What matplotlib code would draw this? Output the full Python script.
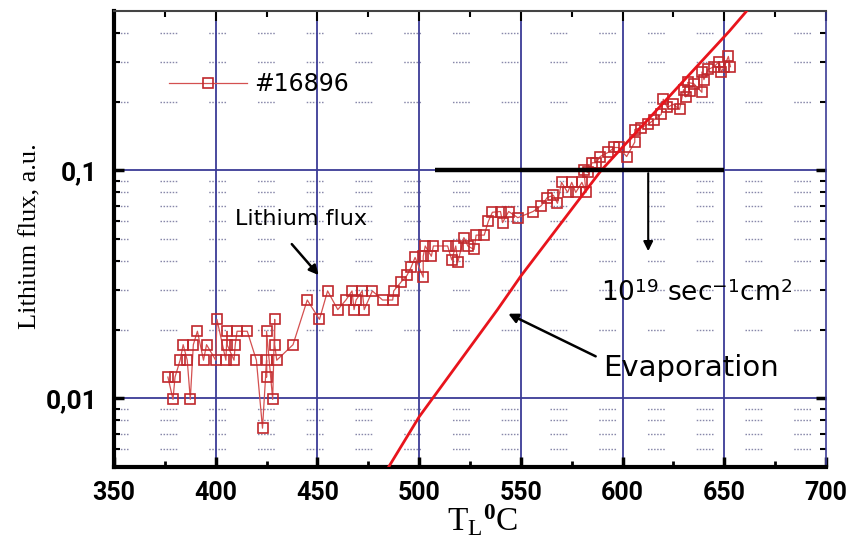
import matplotlib
matplotlib.use("Agg")
import matplotlib.pyplot as plt
from matplotlib.ticker import FixedLocator, NullFormatter, FixedFormatter

plt.rcParams['mathtext.fontset'] = 'custom'
plt.rcParams['mathtext.rm'] = 'Liberation Serif'
plt.rcParams['mathtext.it'] = 'Liberation Serif:italic'
plt.rcParams['mathtext.bf'] = 'Liberation Serif:bold'
plt.rcParams['lines.scale_dashes'] = False

# ---------------- data ----------------
temp = [376.5, 379, 380, 382.5, 384, 386, 387.5, 389, 391, 394, 395.5, 400, 400.6,
        405, 405.6, 405.6, 409, 409.6, 410.5, 415.5, 420, 423, 425, 425, 425, 428,
        429, 429, 430, 438, 445, 451, 455, 460, 464, 467, 468, 469, 472, 473, 477,
        482, 487, 487.5, 491, 494, 496, 498, 502, 502, 503, 506, 507, 514, 516, 518,
        519, 522, 524, 527, 528, 532, 534, 536, 540, 541, 544, 548.5, 556, 560, 563,
        566, 568, 570, 573, 575, 577, 580, 582, 581, 583, 585, 587, 589, 593, 596,
        598, 602, 606, 606, 609, 612.5, 615.5, 619, 620, 622, 625, 628, 630, 631,
        633, 632, 635, 639, 639, 640, 642, 645, 647.5, 648.5, 650, 652, 653]
flux = [0.0124, 0.0099, 0.0124, 0.0147, 0.0172, 0.0147, 0.0099, 0.0172, 0.0197,
        0.0147, 0.0172, 0.0147, 0.0222, 0.0147, 0.0197, 0.0172, 0.0147, 0.0172,
        0.0197, 0.0197, 0.0147, 0.0074, 0.0147, 0.0124, 0.0197, 0.0099, 0.0222,
        0.0172, 0.0147, 0.0172, 0.027, 0.0222, 0.0296, 0.0245, 0.027, 0.0296,
        0.0245, 0.027, 0.0296, 0.0245, 0.0296, 0.027, 0.027, 0.0296, 0.0323,
        0.0346, 0.0375, 0.0415, 0.034, 0.042, 0.0466, 0.042, 0.0466, 0.0466,
        0.0405, 0.0466, 0.0395, 0.0507, 0.0465, 0.045, 0.052, 0.052, 0.0597,
        0.0655, 0.066, 0.059, 0.066, 0.062, 0.066, 0.070, 0.076, 0.0777, 0.0717,
        0.0886, 0.080, 0.0886, 0.080, 0.0886, 0.080, 0.100, 0.098, 0.108, 0.108,
        0.115, 0.12, 0.126, 0.126, 0.115, 0.133, 0.151, 0.154, 0.159, 0.167,
        0.176, 0.205, 0.189, 0.195, 0.185, 0.226, 0.21, 0.222, 0.243, 0.24, 0.22,
        0.27, 0.25, 0.277, 0.285, 0.30, 0.27, 0.285, 0.316, 0.285]

evap_temp = [485, 500, 538.5, 550, 589.5, 652.5, 661]
evap_flux = [0.0050, 0.0083, 0.0245, 0.0344, 0.100, 0.408, 0.50]

level_temp = [508, 650]
level_flux = [0.1, 0.1]

series_label = "#16896"
xticks = [350, 400, 450, 500, 550, 600, 650, 700]
yticks = [0.01, 0.1]
ytick_labels = ["0,01", "0,1"]

# ---------------- figure ----------------
W, H = 847, 542
fig = plt.figure(figsize=(W / 100, H / 100), dpi=100)
L, R, T, B = 114, 826, 11, 467
ax = fig.add_axes([L / W, 1 - B / H, (R - L) / W, (B - T) / H])
ax.set_yscale('log')
ax.set_xlim(350, 700)
ax.set_ylim(0.005, 0.5)

grid_blue = '#3c3c96'
# major grid
for x in [400, 450, 500, 550, 600, 650]:
    ax.axvline(x, color=grid_blue, lw=1.3, zorder=1)
for y in yticks:
    ax.axhline(y, color=grid_blue, lw=1.3, zorder=1)
# minor grid (horizontal dotted segments)
minor_y = [0.006, 0.007, 0.008, 0.009, 0.02, 0.03, 0.04, 0.05, 0.06, 0.07, 0.08,
           0.09, 0.2, 0.3, 0.4]
dot_seg = (2, (1.1, 1.1) * 5 + (1.1, 23))
for y in minor_y:
    ax.axhline(y, color='#8888aa', lw=1.0, ls=dot_seg, zorder=0.5)

# data
ax.plot(temp, flux, color='#d45050', lw=0.9, marker='s', ms=7, mfc='none',
        mec='#c0282c', mew=1.2, zorder=3, label=series_label)
ax.plot(evap_temp, evap_flux, color='#e8141c', lw=2.0, zorder=4)
ax.plot(level_temp, level_flux, color='black', lw=3.2, zorder=4,
        solid_capstyle='butt')

# ticks
ax.xaxis.set_major_locator(FixedLocator(xticks))
ax.xaxis.set_minor_locator(FixedLocator([375, 425, 475, 525, 575, 625, 675]))
ax.yaxis.set_major_locator(FixedLocator(yticks))
ax.yaxis.set_major_formatter(FixedFormatter(ytick_labels))
ax.yaxis.set_minor_locator(FixedLocator(minor_y))
ax.yaxis.set_minor_formatter(NullFormatter())

ax.tick_params(axis='both', which='both', direction='in', top=True, right=True)
ax.tick_params(axis='x', which='major', length=7, width=2.5, pad=10,
               labelsize=18)
ax.tick_params(axis='x', which='minor', length=4, width=2)
ax.tick_params(axis='y', which='major', length=7, width=2.5, pad=12,
               labelsize=19)
ax.tick_params(axis='y', which='minor', length=4, width=1.5)
for lab in ax.get_xticklabels() + ax.get_yticklabels():
    lab.set_fontweight('bold')
    lab.set_family(['Roboto', 'DejaVu Sans'])
for t in ax.yaxis.get_major_ticks() + ax.yaxis.get_minor_ticks():
    t.tick2line.set_color(grid_blue)
for t in ax.xaxis.get_major_ticks() + ax.xaxis.get_minor_ticks():
    t.tick2line.set_markeredgewidth(1.5)

ax.spines['left'].set_linewidth(3)
ax.spines['bottom'].set_linewidth(3)
ax.spines['top'].set_linewidth(1.5)
ax.spines['top'].set_color('#444444')
ax.spines['right'].set_linewidth(1.2)
ax.spines['right'].set_color(grid_blue)

# legend
leg = ax.legend(loc='center left', bbox_to_anchor=(0.048, 0.84), frameon=False,
                handlelength=3.3, handletextpad=0.3, fontsize=17)

# annotations
ax.text(409.6, 0.061, "Lithium flux", fontsize=16, va='center', ha='left',
        family='DejaVu Sans')
ax.annotate("", xy=(451.5, 0.034), xytext=(436.5, 0.0485),
            arrowprops=dict(arrowstyle='-|>', color='black', lw=1.8,
                            mutation_scale=14))
ax.annotate("", xy=(612.6, 0.043), xytext=(612.6, 0.1),
            arrowprops=dict(arrowstyle='-|>', color='black', lw=1.5,
                            mutation_scale=14))
ax.text(589.5, 0.0266, r"10$^{\mathsf{19}}$ sec$^{\mathsf{-1}}$cm$^{\mathsf{2}}$",
        fontsize=19, va='baseline', ha='left', family='DejaVu Sans')
ax.text(590.5, 0.01248, "Evaporation", fontsize=21, va='baseline', ha='left',
        family='DejaVu Sans')
ax.annotate("", xy=(542.6, 0.0238), xytext=(588, 0.0151),
            arrowprops=dict(arrowstyle='-|>', color='black', lw=1.8,
                            mutation_scale=14))

# axis labels
fig.text(30 / W, 1 - 236 / H, "Lithium flux, a.u.", rotation=90, fontsize=19,
         family='Liberation Serif', ha='center', va='center')
fig.text(482 / W, 1 - 520 / H, r"$\mathrm{T_L}^{\mathbf{0}}\mathrm{C}$",
         fontsize=24, ha='center', va='center')

fig.savefig("out.png", dpi=100)
